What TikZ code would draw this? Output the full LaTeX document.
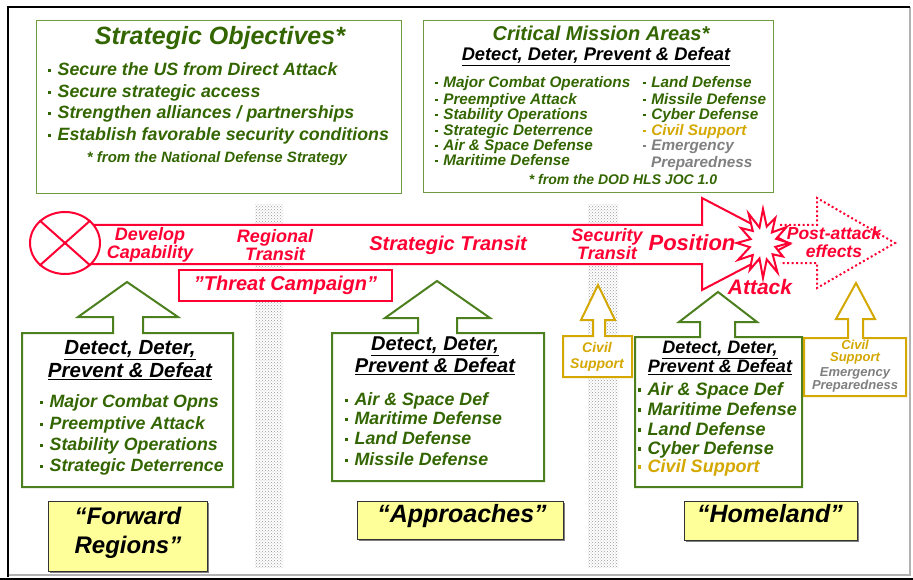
\documentclass[tikz,border=0pt]{standalone}
\usepackage{fontspec}
\setmainfont{Liberation Sans}
\usetikzlibrary{patterns,shapes.geometric}
\definecolor{dgreen}{HTML}{336600}
\definecolor{bgreen}{HTML}{4C7F1E}
\definecolor{lgreen}{HTML}{6E9B40}
\definecolor{tred}{HTML}{FF0033}
\definecolor{gold}{HTML}{D4A800}
\definecolor{mgray}{HTML}{808080}
\definecolor{ylw}{HTML}{FFFF99}
\newcommand{\fsz}[2]{\fontsize{#1}{#2}\selectfont}
\newcommand{\sqb}{\raisebox{0.22em}{\rule{0.18em}{0.18em}}\hspace{0.35em}}
\tikzset{
  gl/.style={inner sep=0pt, anchor=mid west, text=dgreen, font=\bfseries\itshape\fsz{#1}{#1}},
  hd/.style={inner sep=0pt, anchor=mid, text=black, font=\bfseries\itshape\fsz{#1}{#1}},
  rl/.style={inner sep=0pt, align=center, text=tred, font=\bfseries\itshape\fsz{#1}{#1}},
  gtit/.style={inner sep=0pt, anchor=mid, text=dgreen, font=\bfseries\itshape\fsz{#1}{#1}},
  topbox/.style={draw=lgreen, line width=1.2pt, fill=white, inner sep=0pt, anchor=north west},
  grarrow/.style={draw=bgreen, line width=2pt, fill=white, line join=miter},
  goarrow/.style={draw=gold, line width=2pt, fill=white, line join=miter},
  ybox/.style={draw=black!80, line width=1pt, fill=ylw, inner sep=0pt, anchor=north west},
  stip/.style={pattern=crosshatch dots, pattern color=black!40},
  dotarr/.style={draw=tred, line width=2pt, dash pattern=on 2pt off 2.5pt},
}
\begin{document}
\begin{tikzpicture}[x=1pt,y=-1pt]
\useasboundingbox (0,0) rectangle (913,580);
\fill[white] (0,0) rectangle (913,580);
% frame
\draw[black!30, line width=2pt] (910,7) -- (910,575) -- (8,575);
\draw[black, line width=2.5pt] (8,577) -- (8,7) -- (910,7);
\draw[black, line width=2.5pt] (0,579) -- (913,579);
% stipple columns
\fill[stip] (255,205) rectangle (283,567);
\fill[stip] (588,205) rectangle (618,567);

% ===== Strategic objectives =====
\node[topbox, minimum width=365pt, minimum height=173pt] (objbox) at (36,20) {};
\node[gtit=25] (objt) at (220,42) {Strategic Objectives*};
\node[gl=17.8] (o1) at (48,73) {\sqb Secure the US from Direct Attack};
\node[gl=17.8] (o2) at (48,95) {\sqb Secure strategic access};
\node[gl=17.8] (o3) at (48,116) {\sqb Strengthen alliances / partnerships};
\node[gl=17.8] (o4) at (48,138) {\sqb Establish favorable security conditions};
\node[gtit=15] (onote) at (217,160) {* from the National Defense Strategy};

% ===== Critical mission areas =====
\node[topbox, minimum width=350pt, minimum height=172pt] (cmabox) at (423,20) {};
\node[gtit=20] (cmat) at (601,38) {Critical Mission Areas*};
\node[hd=18.3] (cmah) at (596,58) {\underline{Detect, Deter, Prevent \& Defeat}};
\node[gl=15.3] (c1) at (435,85) {\sqb Major Combat Operations};
\node[gl=15.3] (c2) at (435,102) {\sqb Preemptive Attack};
\node[gl=15.3] (c3) at (435,117) {\sqb Stability Operations};
\node[gl=15.3] (c4) at (435,133) {\sqb Strategic Deterrence};
\node[gl=15.3] (c5) at (435,148) {\sqb Air \& Space Defense};
\node[gl=15.3] (c6) at (435,163) {\sqb Maritime Defense};
\node[gl=15.3] (d1) at (643,85) {\sqb Land Defense};
\node[gl=15.3] (d2) at (643,102) {\sqb Missile Defense};
\node[gl=15.3] (d3) at (643,117) {\sqb Cyber Defense};
\node[gl=15.3, text=gold] (d4) at (643,133) {\sqb Civil Support};
\node[gl=15.3, text=mgray] (d5) at (643,148) {\sqb Emergency};
\node[gl=15.3, text=mgray] (d6) at (651,165) {Preparedness};
\node[gtit=14] (cnote) at (623,182) {* from the DOD HLS JOC 1.0};

% ===== red band =====
\draw[draw=tred, line width=2pt, fill=white, line join=miter]
  (65,225) -- (702,225) -- (702,198) -- (790,244) -- (702,290) -- (702,264) -- (65,264) -- cycle;
\draw[dotarr, line join=miter] (780,225) -- (817,225) -- (817,198) -- (895,243) -- (817,288) -- (817,263) -- (780,263);
\draw[draw=tred, line width=2pt, fill=white, line join=miter, shift={(763,243)}, xscale=0.85]
  (0:31) -- (15:15) -- (30:27) -- (45:16) -- (60:34) -- (75:17) -- (90:35) -- (105:16) -- (120:31)
  -- (135:17) -- (150:34) -- (165:16) -- (180:31) -- (195:15) -- (210:30) -- (225:17) -- (240:34)
  -- (255:16) -- (270:34) -- (285:17) -- (300:29) -- (315:15) -- (330:32) -- (345:16) -- cycle;
\node[draw=tred, line width=2pt, fill=white, ellipse, minimum width=70pt, minimum height=62pt, inner sep=0pt] (start) at (65,243) {};
\draw[tred, line width=2pt] (start.north west) -- (start.south east);
\draw[tred, line width=2pt] (start.north east) -- (start.south west);

\node[rl=18] (dev) at (150,245) {Develop\\Capability};
\node[rl=18] (reg) at (275,245) {Regional\\Transit};
\node[rl=20] (str) at (448,245) {Strategic Transit};
\node[rl=18] (sec) at (607,244) {Security\\Transit};
\node[rl=22] (pos) at (692,243) {Position};
\node[rl=21] (att) at (760,287) {Attack};
\node[inner sep=0pt, align=center, text=tred, font=\bfseries\itshape\fsz{17.5}{18}] (post) at (834,242) {Post-attack\\effects};

\node[draw=tred, line width=1.2pt, fill=white, minimum width=213pt, minimum height=31pt, inner sep=0pt,
      text=tred, font=\bfseries\itshape\fsz{20}{20}] (threat) at (285.5,285.5) {"Threat Campaign"};

% ===== forward regions box =====
\draw[grarrow] (22,333) -- (113,333) -- (113,317) -- (78,317) -- (127,282) -- (178,317) -- (143,317)
  -- (143,333) -- (233,333) -- (233,487) -- (22,487) -- cycle;
\node[hd=20.5] (fh1) at (130,352) {\underline{Detect, Deter,}};
\node[hd=20.5] (fh2) at (130,375) {\underline{Prevent \& Defeat}};
\node[gl=17.8] (f1) at (40,405) {\sqb Major Combat Opns};
\node[gl=17.8] (f2) at (40,427) {\sqb Preemptive Attack};
\node[gl=17.8] (f3) at (40,448) {\sqb Stability Operations};
\node[gl=17.8] (f4) at (40,469) {\sqb Strategic Deterrence};

% ===== approaches box =====
\draw[grarrow] (332,333) -- (418,333) -- (418,318) -- (385,318) -- (437,281) -- (490,318) -- (457,318)
  -- (457,333) -- (544,333) -- (544,481) -- (332,481) -- cycle;
\node[hd=20] (ah1) at (435,348) {\underline{Detect, Deter,}};
\node[hd=20] (ah2) at (435,370) {\underline{Prevent \& Defeat}};
\node[gl=17.8] (a1) at (345,403) {\sqb Air \& Space Def};
\node[gl=17.8] (a2) at (345,422) {\sqb Maritime Defense};
\node[gl=17.8] (a3) at (345,442) {\sqb Land Defense};
\node[gl=17.8] (a4) at (345,463) {\sqb Missile Defense};

% ===== civil support small =====
\draw[goarrow] (563,336) -- (593,336) -- (593,320) -- (581,320) -- (598,285) -- (615,320) -- (605,320)
  -- (605,336) -- (632,336) -- (632,377) -- (563,377) -- cycle;
\node[inner sep=0pt, align=center, text=gold, font=\bfseries\itshape\fsz{14}{16}] (cs1) at (597,357) {Civil\\Support};

% ===== homeland box =====
\draw[grarrow] (635,337) -- (700,337) -- (700,322) -- (679,322) -- (718,292) -- (757,322) -- (735,322)
  -- (735,337) -- (802,337) -- (802,487) -- (635,487) -- cycle;
\node[hd=18] (hh1) at (720,351) {\underline{Detect, Deter,}};
\node[hd=18] (hh2) at (720,370) {\underline{Prevent \& Defeat}};
\node[gl=18] (h1) at (638,393) {\sqb Air \& Space Def};
\node[gl=18] (h2) at (638,413) {\sqb Maritime Defense};
\node[gl=18] (h3) at (638,433) {\sqb Land Defense};
\node[gl=18] (h4) at (638,452) {\sqb Cyber Defense};
\node[gl=18, text=gold] (h5) at (638,470) {\sqb Civil Support};

% ===== civil support right =====
\draw[goarrow] (804,338) -- (848,338) -- (848,319) -- (836,319) -- (856,283) -- (875,319) -- (863,319)
  -- (863,338) -- (906,338) -- (906,396) -- (804,396) -- cycle;
\node[hd=13, text=gold] (cs2a) at (855,347) {Civil};
\node[hd=13, text=gold] (cs2b) at (855,359) {Support};
\node[hd=13, text=mgray] (cs2c) at (855,374) {Emergency};
\node[hd=13, text=mgray] (cs2d) at (855,387) {Preparedness};

% ===== yellow region labels =====
\fill[black!50] (50,503) rectangle (209,573);
\node[ybox, minimum width=159pt, minimum height=70pt] (fwd) at (48,501) {};
\node[hd=24] (fwdt1) at (128,522) {“Forward};
\node[hd=24] (fwdt2) at (128,551) {Regions”};
\fill[black!50] (359,503) rectangle (565,541);
\node[ybox, minimum width=206pt, minimum height=38pt] (appr) at (357,501) {};
\node[hd=25] (apprt) at (462,520) {“Approaches”};
\fill[black!50] (686,503) rectangle (859,542);
\node[ybox, minimum width=173pt, minimum height=39pt] (home) at (684,501) {};
\node[hd=25] (homet) at (770,520) {“Homeland”};
\end{tikzpicture}
\end{document}
